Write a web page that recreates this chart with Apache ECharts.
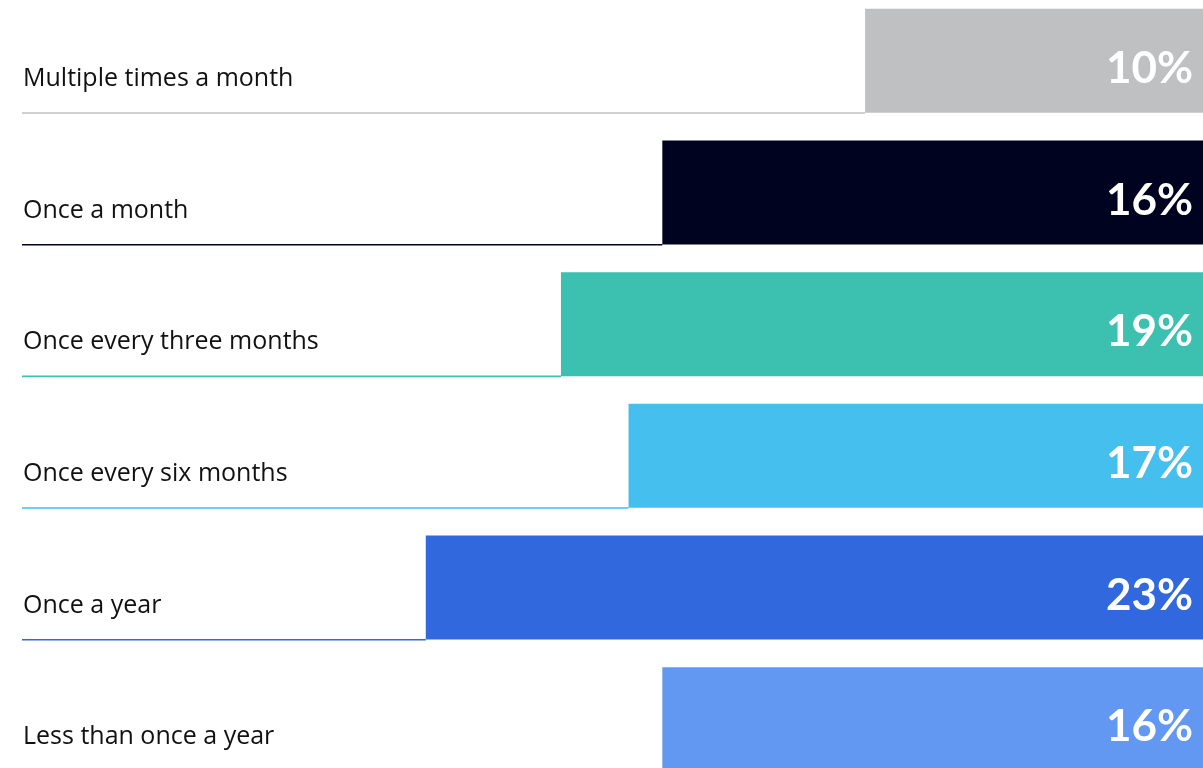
<!DOCTYPE html>
<html>
<head>
<meta charset="utf-8">
<script src="https://cdn.jsdelivr.net/npm/echarts@6/dist/echarts.min.js"></script>
<style>
  html, body { margin: 0; padding: 0; background: #ffffff; }
  #chart { width: 1203px; height: 768px; }
</style>
</head>
<body>
<div id="chart"></div>
<script>
// Survey answers, top to bottom
const categories = [
  'Multiple times a month',
  'Once a month',
  'Once every three months',
  'Once every six months',
  'Once a year',
  'Less than once a year'
];
// Share of respondents (%)
const shares = [10, 16, 19, 17, 23, 16];
// One colour per answer
const barColors = ['#bfc0c2', '#00031f', '#3cc0b0', '#45bfee', '#3168dd', '#6398f2'];

const BAR_RATIO = 0.79;   // bar thickness as a share of the category band
const LABEL_LEFT = 22;    // left edge of answer text and rule

const chart = echarts.init(document.getElementById('chart'), null, { renderer: 'canvas' });

chart.setOption({
  backgroundColor: '#ffffff',
  animation: false,
  grid: { left: 0, right: 0, top: -5, height: 790, outerBoundsMode: 'none' },
  xAxis: {
    type: 'value',
    inverse: true,
    min: 0,
    max: 35.6,
    show: false
  },
  yAxis: {
    type: 'category',
    inverse: true,
    data: categories,
    show: false
  },
  series: [
    {
      type: 'bar',
      barWidth: (BAR_RATIO * 100) + '%',
      data: shares.map((v, i) => ({ value: v, itemStyle: { color: barColors[i] } })),
      label: {
        show: true,
        position: 'insideRight',
        distance: 10,
        offset: [0, 8],
        formatter: p => p.value + '%',
        color: '#ffffff',
        fontFamily: 'Lato',
        fontWeight: 'bold',
        fontSize: 44
      },
      z: 2
    },
    {
      // answer text plus a thin rule running from the text to the bar's edge
      type: 'custom',
      data: shares.map((v, i) => [v, i]),
      encode: { x: 0, y: 1 },
      clip: false,
      z: 3,
      renderItem(params, api) {
        const i = api.value(1);
        const edge = api.coord([api.value(0), i]);
        const band = api.size([0, 1])[1];
        const bottom = edge[1] + band * BAR_RATIO / 2;
        return {
          type: 'group',
          children: [
            {
              type: 'rect',
              shape: { x: LABEL_LEFT, y: bottom - 0.6, width: edge[0] - LABEL_LEFT, height: 1.6 },
              style: { fill: barColors[i], stroke: null }
            },
            {
              type: 'text',
              x: LABEL_LEFT + 1,
              y: Math.round(bottom) - 34,
              style: {
                text: categories[i],
                fill: '#111111',
                font: '25px "Open Sans"',
                verticalAlign: 'middle',
                align: 'left'
              }
            }
          ]
        };
      }
    }
  ]
});
</script>
</body>
</html>
